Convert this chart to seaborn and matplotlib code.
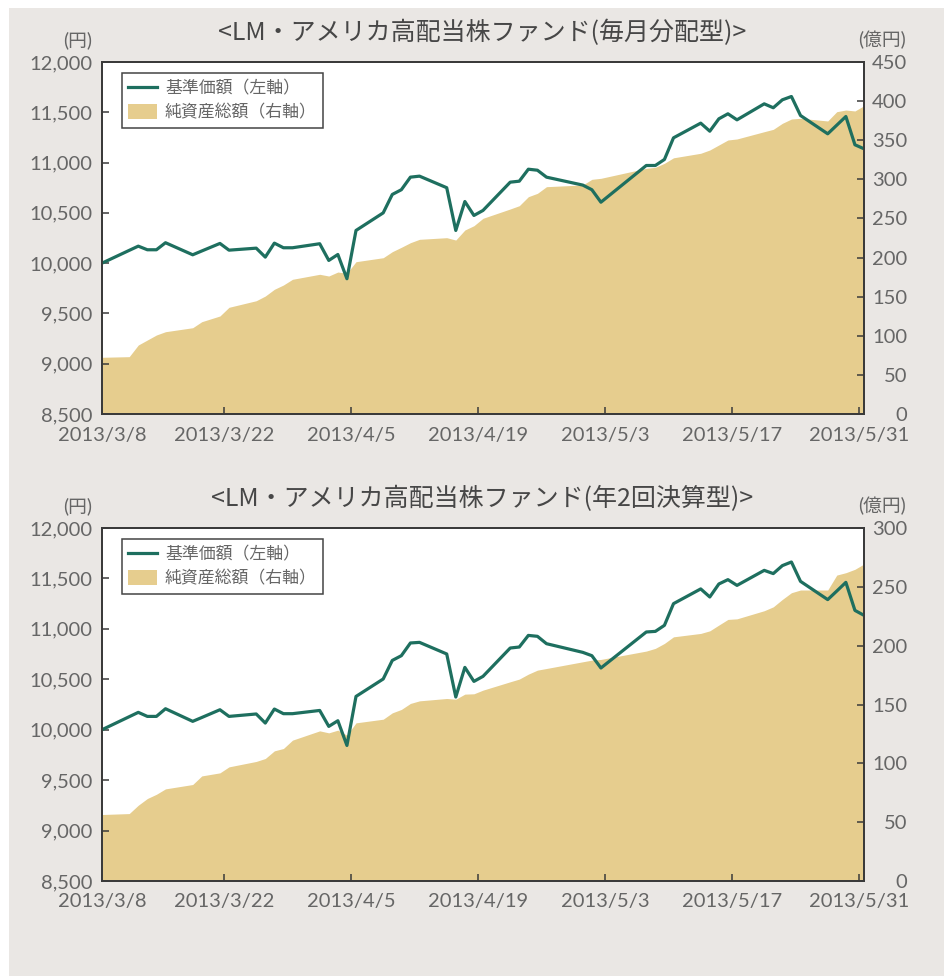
import matplotlib
matplotlib.use("Agg")
import matplotlib.pyplot as plt
import seaborn as sns
import pandas as pd
from matplotlib.patches import Rectangle

# ---------------- data ----------------
dates = ["2013-03-08", "2013-03-11", "2013-03-12", "2013-03-13", "2013-03-14", "2013-03-15",
         "2013-03-18", "2013-03-19", "2013-03-21", "2013-03-22", "2013-03-25", "2013-03-26",
         "2013-03-27", "2013-03-28", "2013-03-29", "2013-04-01", "2013-04-02", "2013-04-03",
         "2013-04-04", "2013-04-05", "2013-04-08", "2013-04-09", "2013-04-10", "2013-04-11",
         "2013-04-12", "2013-04-15", "2013-04-16", "2013-04-17", "2013-04-18", "2013-04-19",
         "2013-04-22", "2013-04-23", "2013-04-24", "2013-04-25", "2013-04-26", "2013-04-30",
         "2013-05-01", "2013-05-02", "2013-05-07", "2013-05-08", "2013-05-09", "2013-05-10",
         "2013-05-13", "2013-05-14", "2013-05-15", "2013-05-16", "2013-05-17", "2013-05-20",
         "2013-05-21", "2013-05-22", "2013-05-23", "2013-05-24", "2013-05-27", "2013-05-28",
         "2013-05-29", "2013-05-30", "2013-05-31"]

# 毎月分配型
nav_monthly = [10000, 10127, 10169, 10133, 10133, 10203, 10083, 10121, 10196, 10129, 10149, 10060,
               10199, 10153, 10153, 10193, 10027, 10086, 9845, 10325, 10500, 10683, 10730, 10855,
               10865, 10750, 10325, 10613, 10474, 10524, 10805, 10815, 10934, 10924, 10855, 10776,
               10730, 10606, 10971, 10971, 11031, 11246, 11392, 11312, 11435, 11485, 11425, 11584,
               11545, 11624, 11657, 11468, 11286, 11372, 11458, 11177, 11137]
aum_monthly = [72.5, 73.3, 88.2, 94.6, 101.0, 105.2, 110.3, 118.0, 125.3, 136.4, 144.8, 150.8,
               159.4, 164.9, 172.2, 178.6, 176.4, 181.5, 179.9, 194.7, 199.8, 207.5, 213.1, 219.0,
               223.3, 225.4, 222.4, 235.2, 240.7, 250.2, 262.1, 266.3, 277.8, 282.1, 290.6, 292.8,
               300.0, 301.3, 314.1, 315.4, 320.5, 327.5, 333.3, 337.5, 343.9, 350.3, 351.6, 360.9,
               363.9, 371.6, 377.1, 378.0, 374.6, 386.5, 388.6, 387.4, 394.1]

# 年2回決算型
nav_semi = [10000, 10129, 10172, 10132, 10132, 10208, 10083, 10121, 10198, 10132, 10156, 10066,
            10205, 10159, 10159, 10191, 10033, 10089, 9844, 10330, 10503, 10687, 10734, 10860,
            10866, 10751, 10324, 10618, 10479, 10529, 10810, 10820, 10935, 10926, 10853, 10767,
            10734, 10612, 10969, 10975, 11035, 11250, 11396, 11316, 11445, 11488, 11431, 11580,
            11548, 11627, 11663, 11471, 11290, 11375, 11461, 11183, 11134]
aum_semi = [56.5, 57.3, 64.4, 70.1, 73.7, 78.3, 82.0, 89.3, 91.9, 97.0, 101.6, 104.1,
            110.6, 112.6, 119.7, 127.6, 125.9, 128.2, 123.9, 134.4, 137.5, 142.9, 145.8, 150.9,
            153.1, 155.1, 154.5, 158.8, 159.1, 162.2, 169.3, 171.6, 175.8, 179.2, 180.6, 186.3,
            187.7, 188.3, 195.4, 197.7, 201.9, 207.5, 210.4, 212.6, 217.5, 222.3, 222.8, 229.7,
            233.0, 239.3, 245.0, 247.3, 247.3, 260.0, 262.0, 264.9, 269.4]

title_monthly = "<LM・アメリカ高配当株ファンド(毎月分配型)>"
title_semi = "<LM・アメリカ高配当株ファンド(年2回決算型)>"
legend_labels = ["基準価額（左軸）", "純資産総額（右軸）"]
left_unit = "(円)"
right_unit = "(億円)"

tick_dates = ["2013-03-08", "2013-03-22", "2013-04-05", "2013-04-19", "2013-05-03",
              "2013-05-17", "2013-05-31"]
tick_labels = ["2013/3/8", "2013/3/22", "2013/4/5", "2013/4/19", "2013/5/3",
               "2013/5/17", "2013/5/31"]
left_ticks = [8500, 9000, 9500, 10000, 10500, 11000, 11500, 12000]
right_ticks_monthly = [0, 50, 100, 150, 200, 250, 300, 350, 400, 450]
right_ticks_semi = [0, 50, 100, 150, 200, 250, 300]

# ---------------- style ----------------
LINE = "#1e6f5f"
AREA = "#e6cd8e"
BG = "#eae7e4"
SPINE = "#3a3a3a"
TXT = "#666666"
TITLE = "#474747"
NUMFONT = ["Lato", "Noto Sans CJK JP", "DejaVu Sans"]
JPFONT = ["Noto Sans CJK JP", "DejaVu Sans"]

plt.rcParams["font.family"] = NUMFONT

W, H = 945, 976
fig = plt.figure(figsize=(W / 100, H / 100), dpi=100, facecolor="white")
fig.patches.append(Rectangle((9 / W, 0), 1, (H - 8) / H, transform=fig.transFigure,
                             facecolor=BG, edgecolor="none", zorder=-10))

x_start = pd.Timestamp(dates[0])
x_end = pd.Timestamp(dates[-1])
tick_pos = [max(pd.Timestamp(d) - pd.Timedelta(hours=12), x_start) for d in tick_dates]


def panel(top_px, bottom_px, title, nav, aum, rticks):
    left_px, right_px = 102, 864
    rect = [left_px / W, 1 - bottom_px / H, (right_px - left_px) / W, (bottom_px - top_px) / H]
    ax = fig.add_axes(rect)
    ax2 = ax.twinx()
    df = pd.DataFrame({"date": pd.to_datetime(dates), "nav": nav, "aum": aum})

    area = ax2.fill_between(df["date"], 0, df["aum"], color=AREA, lw=0)
    sns.lineplot(data=df, x="date", y="nav", ax=ax, color=LINE, lw=2.3)

    ax.set_zorder(ax2.get_zorder() + 1)
    ax.patch.set_visible(False)
    ax2.patch.set_visible(True)
    ax2.set_facecolor("white")

    ax.set_xlim(x_start, x_end)
    ax.set_ylim(left_ticks[0], left_ticks[-1])
    ax2.set_ylim(rticks[0], rticks[-1])
    ax.set_xlabel("")
    ax.set_ylabel("")
    ax2.set_ylabel("")

    ax.set_xticks(tick_pos)
    ax.set_xticklabels(tick_labels)
    ax.set_yticks(left_ticks)
    ax.set_yticklabels([f"{v:,}" for v in left_ticks])
    ax2.set_yticks(rticks)
    ax2.set_yticklabels([str(v) for v in rticks])

    for a in (ax, ax2):
        for s in a.spines.values():
            s.set_color(SPINE)
            s.set_linewidth(1.3)
    ax.tick_params(axis="both", direction="in", length=5, width=1.1, color=SPINE,
                   labelcolor=TXT, labelsize=14.5)
    ax.tick_params(axis="x", pad=9)
    ax.tick_params(axis="y", pad=7)
    ax2.tick_params(axis="y", direction="in", length=5, width=1.1, color=SPINE,
                    labelcolor=TXT, labelsize=14.5, pad=31)
    for lbl in ax2.get_yticklabels():
        lbl.set_ha("right")

    line = ax.lines[0]
    leg = ax.legend([line, area], legend_labels, loc="upper left",
                    bbox_to_anchor=(0.026, 0.968), borderaxespad=0, frameon=True,
                    fancybox=False, framealpha=1, edgecolor="#444444",
                    handlelength=1.75, handleheight=1.0, handletextpad=0.45,
                    labelspacing=0.38, borderpad=0.35,
                    prop={"family": JPFONT, "size": 12.2})
    leg.get_frame().set_linewidth(1.1)
    for t in leg.get_texts():
        t.set_color(TXT)

    fig.text(482 / W, 1 - (top_px - 29) / H, title, ha="center", va="center",
             fontsize=18, color=TITLE, family=JPFONT)
    fig.text(78 / W, 1 - (top_px - 22) / H, left_unit, ha="center", va="center",
             fontsize=13.5, color=TXT, family=NUMFONT)
    fig.text(882 / W, 1 - (top_px - 22) / H, right_unit, ha="center", va="center",
             fontsize=13.5, color=TXT, family=NUMFONT)


panel(62, 414, title_monthly, nav_monthly, aum_monthly, right_ticks_monthly)
panel(528, 881, title_semi, nav_semi, aum_semi, right_ticks_semi)

fig.savefig("out.png", dpi=100, facecolor="white")
